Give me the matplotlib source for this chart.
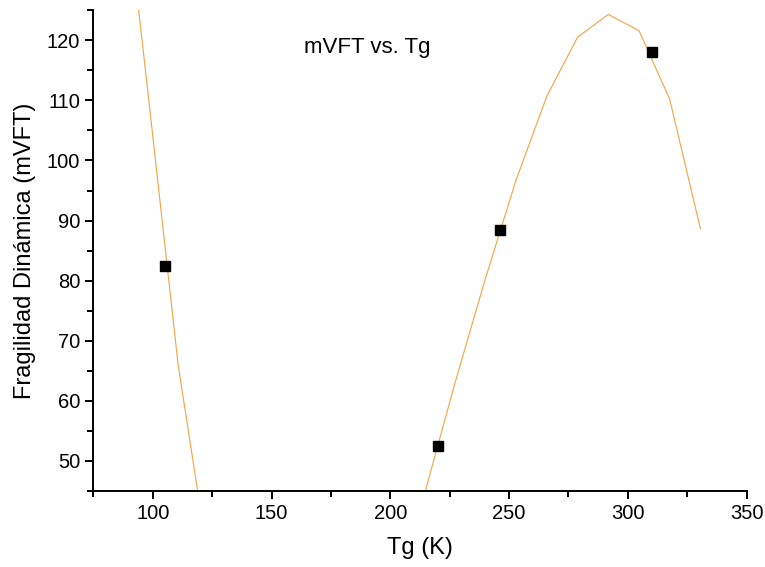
import matplotlib.pyplot as plt
from matplotlib.ticker import MultipleLocator

plt.rcParams['font.family'] = ['Liberation Sans', 'DejaVu Sans']

# measured points
tg = [105, 220, 246, 310]
m_vft = [82.5, 52.5, 88.5, 118]

# fitted curve (parts below 45 / above 125 are clipped)
fit_x = [84.9, 97.8, 110.7, 123.6, 136.5, 149.4, 162.4, 175.3, 188.2, 201.2,
         214.2, 227.1, 240.0, 252.9, 265.9, 278.8, 291.7, 304.7, 317.6, 330.5]
fit_y = [157.0, 112.0, 66.0, 33.0, 12.0, 2.0, -1.0, 3.0, 12.0, 26.0,
         44.2, 62.8, 80.3, 96.7, 110.7, 120.5, 124.3, 121.6, 110.2, 88.7]

fig = plt.figure(figsize=(7.65, 5.67), dpi=100)
ax = fig.add_axes([0.122, 0.134, 0.854, 0.848])

ax.plot(fit_x, fit_y, color='#F4A340', lw=0.8)
ax.plot(tg, m_vft, 's', color='black', ms=6.5)

ax.set_xlim(75, 350)
ax.set_ylim(45, 125)
ax.xaxis.set_major_locator(MultipleLocator(50))
ax.xaxis.set_minor_locator(MultipleLocator(25))
ax.yaxis.set_major_locator(MultipleLocator(10))
ax.yaxis.set_minor_locator(MultipleLocator(5))

for s in ['top', 'right']:
    ax.spines[s].set_visible(False)
for s in ['left', 'bottom']:
    ax.spines[s].set_linewidth(1.4)
ax.tick_params(which='major', direction='out', length=6, width=1.4, labelsize=14.5)
ax.tick_params(which='minor', direction='out', length=4, width=1.4)

ax.set_xlabel('Tg (K)', fontsize=17, labelpad=10)
ax.set_ylabel('Fragilidad Dinámica (mVFT)', fontsize=17, labelpad=8)
ax.text(190.5, 118.8, 'mVFT vs. Tg', fontsize=16, ha='center', va='center')

fig.savefig('out.png')
